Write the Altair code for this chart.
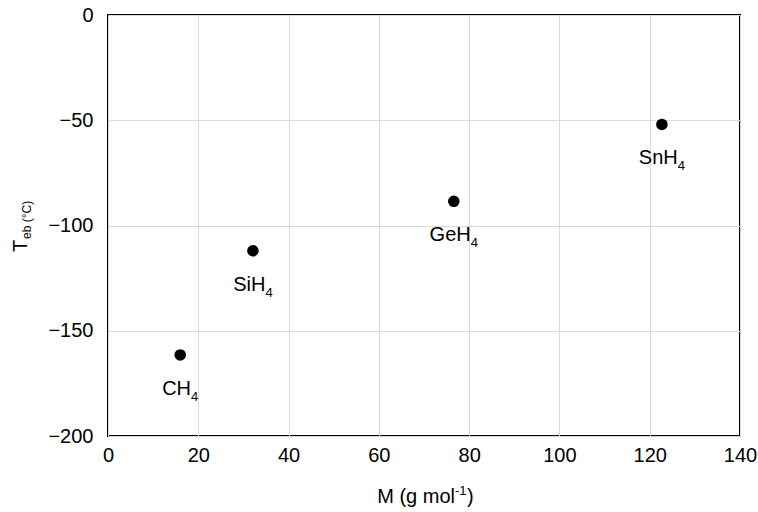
import altair as alt
import pandas as pd

# ---- data ----
formulas = ["CH4", "SiH4", "GeH4", "SnH4"]
molar_mass = [16.0, 32.1, 76.6, 122.7]
boiling_point = [-161.5, -112.0, -88.5, -52.0]

x_ticks = [0, 20, 40, 60, 80, 100, 120, 140]
y_ticks = [-200, -150, -100, -50, 0]

FONT = "Liberation Sans, Arial, Helvetica, DejaVu Sans, sans-serif"
MAIN_FS = 20
SUB_FS = 13

W, H = 632, 421
X_MAX = 140
PX_PER_UNIT = W / X_MAX

# approximate Arial advance widths (em) for label centring
_w = {"C": .722, "H": .722, "S": .667, "i": .222, "G": .778, "e": .556,
      "n": .556, "4": .556}


def _width(s, fs):
    return sum(_w.get(c, .556) for c in s) * fs


df = pd.DataFrame({"formula": formulas, "M": molar_mass, "T": boiling_point})
df["main"] = df["formula"].str[:-1]
df["sub"] = df["formula"].str[-1]
# anchor between main text and subscript so that the whole label is centred on the point
df["M_lbl"] = [m + ((_width(a, MAIN_FS) - _width(b, SUB_FS)) / 2) / PX_PER_UNIT
               for m, a, b in zip(df["M"], df["main"], df["sub"])]

xenc = alt.X("M:Q", scale=alt.Scale(domain=[0, X_MAX], nice=False),
             axis=alt.Axis(values=x_ticks, title=None, grid=True,
                           gridColor="#d9d9d9", ticks=False, domain=False,
                           labelFontSize=MAIN_FS, labelPadding=9, labelColor="black",
                           labelFont=FONT, labelFlush=False, labelOverlap=False))
yenc = alt.Y("T:Q", scale=alt.Scale(domain=[-200, 0], nice=False),
             axis=alt.Axis(values=y_ticks, title=None, grid=True,
                           gridColor="#d9d9d9", ticks=False, domain=False,
                           labelFontSize=MAIN_FS, labelPadding=15, labelColor="black",
                           labelFont=FONT, labelFlush=False, labelOverlap=False))

base = alt.Chart(df)

points = base.mark_point(filled=True, color="black", opacity=1, size=135).encode(
    x=xenc, y=yenc)

main_lbl = base.mark_text(align="right", baseline="alphabetic", dy=40,
                          fontSize=MAIN_FS, font=FONT, color="black").encode(
    x="M_lbl:Q", y="T:Q", text="main:N")

sub_lbl = base.mark_text(align="left", baseline="alphabetic", dy=46,
                         fontSize=SUB_FS, font=FONT, color="black").encode(
    x="M_lbl:Q", y="T:Q", text="sub:N")

# axis titles with sub/superscripts
ttl = pd.DataFrame({"yt": ["T"], "ys": ["eb (°C)"],
                    "xt": ["M (g mol"], "xs": ["-1"], "xe": [")"]})
tchart = alt.Chart(ttl)
ytitle_main = tchart.mark_text(align="left", baseline="alphabetic", angle=270,
                               fontSize=MAIN_FS, font=FONT, color="black").encode(
    x=alt.value(-81), y=alt.value(237), text="yt:N")
ytitle_sub = tchart.mark_text(align="left", baseline="alphabetic", angle=270,
                              fontSize=SUB_FS - 1, font=FONT, color="black").encode(
    x=alt.value(-77), y=alt.value(224), text="ys:N")
xtitle_main = tchart.mark_text(align="right", baseline="alphabetic",
                               fontSize=MAIN_FS, font=FONT, color="black").encode(
    x=alt.value(347), y=alt.value(488), text="xt:N")
xtitle_sup = tchart.mark_text(align="left", baseline="alphabetic",
                              fontSize=SUB_FS, font=FONT, color="black").encode(
    x=alt.value(347), y=alt.value(480), text="xs:N")
xtitle_end = tchart.mark_text(align="left", baseline="alphabetic",
                              fontSize=MAIN_FS, font=FONT, color="black").encode(
    x=alt.value(359), y=alt.value(488), text="xe:N")

chart = alt.layer(points, main_lbl, sub_lbl, ytitle_main, ytitle_sub,
                  xtitle_main, xtitle_sup, xtitle_end).properties(
    width=W, height=H,
    autosize=alt.AutoSizeParams(type="none"),
    padding={"left": 108, "top": 15, "right": 18, "bottom": 76},
    background="white",
).configure_view(stroke="black", strokeWidth=2)

chart.save("out.html", embed_options={"renderer": "svg", "actions": False})
